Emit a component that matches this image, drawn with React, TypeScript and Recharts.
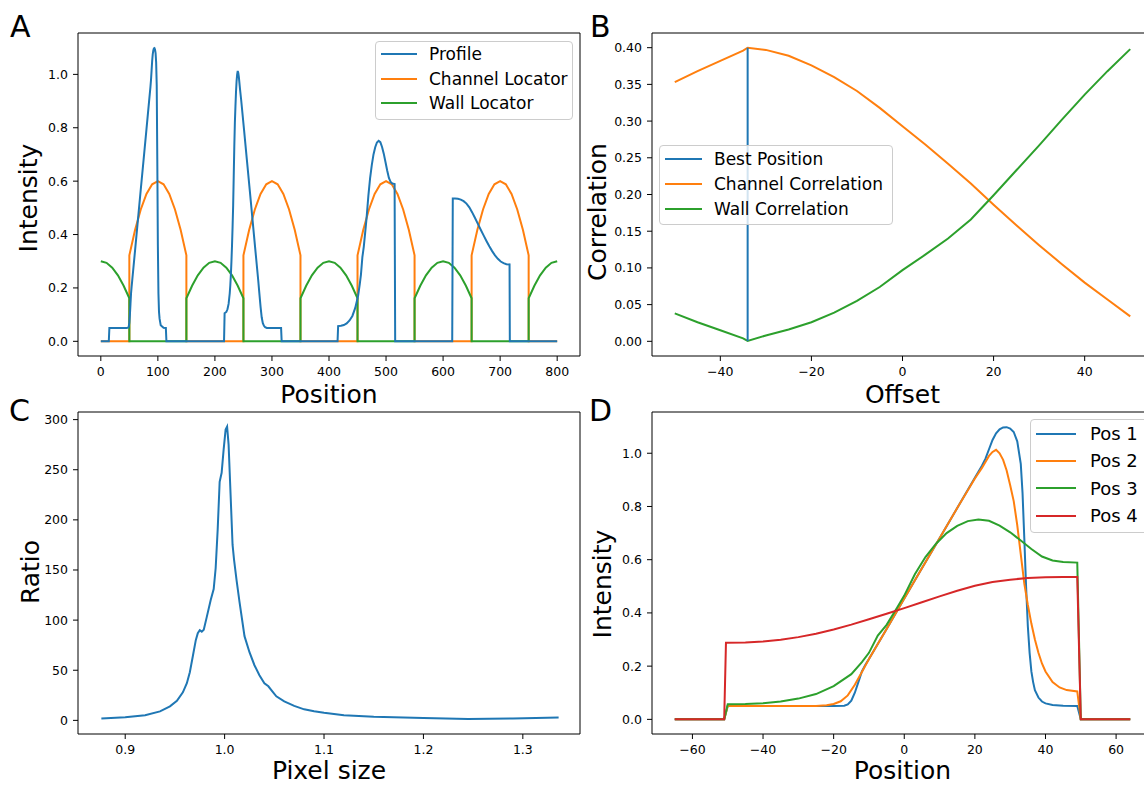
import React from 'react';
import { LineChart, Line, XAxis, YAxis, Legend, ReferenceLine } from 'recharts';

const FONT = '"DejaVu Sans", sans-serif';
const BLUE = '#1f77b4';
const ORANGE = '#ff7f0e';
const GREEN = '#2ca02c';
const RED = '#d62728';

// ---------- A: profile across the whole device ----------
const positionTicks = [0, 100, 200, 300, 400, 500, 600, 700, 800];
const intensityTicks = [0, 0.2, 0.4, 0.6, 0.8, 1.0];

// one locator arc, read every 10 units from -50 to +50 around its centre
const arcOffsets = [-50, -40, -30, -20, -10, 0, 10, 20, 30, 40, 50];
const channelArc = [0.322, 0.417, 0.494, 0.552, 0.588, 0.6, 0.588, 0.552, 0.494, 0.417, 0.322];
const wallArc = [0.161, 0.208, 0.247, 0.276, 0.294, 0.3, 0.294, 0.276, 0.247, 0.208, 0.161];
const channelCentres = [100, 300, 500, 700];
const wallCentres = [0, 200, 400, 600, 800];

const profile = [
  [0, 0], [14, 0], [15, 0.05], [45, 0.05], [48, 0.051], [49, 0.056], [50, 0.07], [51, 0.1], [52, 0.14],
  [53, 0.18], [54, 0.205], [55, 0.227], [60, 0.34], [65, 0.454], [70, 0.568], [75, 0.681], [80, 0.794],
  [85, 0.908], [87, 0.953], [88, 0.98], [89, 1.015], [90, 1.05], [91, 1.075], [92, 1.09], [93, 1.097],
  [94, 1.098], [95, 1.093], [96, 1.08], [97, 1.045], [98, 0.96], [99, 0.68], [100, 0.36], [101, 0.18],
  [102, 0.11], [103, 0.085], [105, 0.06], [110, 0.051], [114, 0.05], [115, 0],
  [216, 0], [217, 0.105], [220, 0.11], [222, 0.12], [224, 0.14], [226, 0.18], [227, 0.21], [228, 0.25],
  [229, 0.3], [230, 0.36], [231, 0.43], [232, 0.51], [233, 0.62], [234, 0.73], [235, 0.82], [236, 0.88],
  [237, 0.935], [238, 0.975], [239, 1.0], [240, 1.013], [241, 1.005], [242, 0.99], [244, 0.945],
  [246, 0.905], [251, 0.794], [256, 0.681], [261, 0.568], [266, 0.454], [271, 0.34], [276, 0.227],
  [278, 0.178], [280, 0.13], [282, 0.09], [284, 0.068], [286, 0.058], [288, 0.053], [291, 0.05],
  [316, 0.05], [317, 0],
  [415, 0], [416, 0.057], [421, 0.058], [426, 0.061], [431, 0.067], [436, 0.078], [441, 0.095],
  [446, 0.125], [451, 0.17], [454, 0.215], [456, 0.25], [458.5, 0.315], [461, 0.355], [464, 0.42],
  [466, 0.465], [469, 0.545], [472, 0.61], [475, 0.66], [478, 0.7], [481, 0.727], [484, 0.745],
  [487, 0.751], [490, 0.746], [493, 0.728], [496, 0.703], [499, 0.672], [502, 0.64], [505, 0.612],
  [508, 0.597], [511, 0.591], [515, 0.589], [516, 0],
  [616, 0], [617, 0.535], [621, 0.535], [626, 0.534], [631, 0.531], [636, 0.525], [641, 0.516],
  [646, 0.502], [651, 0.483], [656, 0.462], [661, 0.44], [666, 0.418], [671, 0.397], [676, 0.376],
  [681, 0.356], [686, 0.338], [691, 0.322], [696, 0.309], [701, 0.299], [706, 0.293], [711, 0.289],
  [716.5, 0.288], [717, 0], [800, 0],
];

// ---------- B: correlation vs offset ----------
const offsets = [-50, -45, -40, -35, -34, -30, -25, -20, -15, -10, -5, 0, 5, 10, 15, 20, 25, 30, 35, 40, 45, 50];
const channelCorr = [0.353, 0.368, 0.382, 0.396, 0.4, 0.397, 0.389, 0.376, 0.36, 0.341, 0.318, 0.293, 0.268, 0.242, 0.215, 0.186, 0.158, 0.131, 0.105, 0.08, 0.057, 0.034];
const wallCorr = [0.038, 0.026, 0.015, 0.004, 0.0005, 0.008, 0.016, 0.026, 0.039, 0.055, 0.074, 0.097, 0.118, 0.14, 0.166, 0.199, 0.233, 0.267, 0.302, 0.336, 0.368, 0.398];
const bestPosition = [[-34, 0.0005], [-34, 0.4]];
const offsetTicks = [-40, -20, 0, 20, 40];
const corrTicks = [0, 0.05, 0.1, 0.15, 0.2, 0.25, 0.3, 0.35, 0.4];

// ---------- C: ratio vs pixel size ----------
const ratio = [
  [0.876, 1.8], [0.9, 3.0], [0.92, 5.2], [0.935, 9], [0.945, 14], [0.952, 19.5], [0.958, 28], [0.962, 37],
  [0.965, 48], [0.968, 64], [0.971, 80], [0.973, 87], [0.975, 90], [0.977, 88.5], [0.979, 90.5],
  [0.982, 103], [0.986, 120], [0.989, 131], [0.991, 152], [0.993, 190], [0.995, 238], [0.997, 247],
  [0.999, 270], [1.001, 290], [1.0025, 293], [1.004, 275], [1.006, 225], [1.008, 175], [1.0095, 160],
  [1.012, 140], [1.015, 118], [1.02, 84], [1.025, 68], [1.03, 55], [1.035, 45], [1.04, 37], [1.044, 34],
  [1.048, 29], [1.052, 24], [1.06, 19], [1.07, 14.5], [1.08, 11], [1.09, 9], [1.1, 7.5], [1.12, 5.2],
  [1.15, 3.6], [1.2, 2.3], [1.245, 1.4], [1.29, 1.9], [1.336, 2.8],
];
const pixelTicks = [0.9, 1.0, 1.1, 1.2, 1.3];
const ratioTicks = [0, 50, 100, 150, 200, 250, 300];

// ---------- D: single channel profiles ----------
const pos1 = [
  [-65, 0], [-51, 0], [-50, 0.05], [-20, 0.05], [-17, 0.051], [-16, 0.056], [-15, 0.07], [-14, 0.1],
  [-13, 0.14], [-12, 0.18], [-11, 0.205], [-10, 0.227], [-5, 0.34], [0, 0.454], [5, 0.568], [10, 0.681],
  [15, 0.794], [20, 0.908], [22, 0.953], [23, 0.98], [24, 1.015], [25, 1.05], [26, 1.075], [27, 1.09],
  [28, 1.097], [29, 1.098], [30, 1.093], [31, 1.08], [32, 1.045], [33, 0.96], [33.5, 0.85], [34, 0.68],
  [34.5, 0.5], [35, 0.35], [35.5, 0.25], [36, 0.18], [36.5, 0.14], [37, 0.11], [38, 0.082], [39, 0.067],
  [40, 0.06], [42, 0.054], [45, 0.051], [49, 0.05], [50, 0], [64, 0],
];
const pos2 = [
  [-65, 0], [-51, 0], [-50, 0.05], [-25, 0.05], [-22, 0.053], [-20, 0.058], [-18, 0.068], [-16, 0.09],
  [-14, 0.13], [-12, 0.178], [-10, 0.227], [-5, 0.34], [0, 0.454], [5, 0.568], [10, 0.681], [15, 0.794],
  [20, 0.905], [22, 0.945], [24, 0.99], [25, 1.005], [26, 1.013], [27, 1.0], [28, 0.975], [29, 0.935],
  [30, 0.88], [31, 0.82], [32, 0.73], [33, 0.62], [34, 0.51], [35, 0.43], [36, 0.36], [37, 0.3],
  [38, 0.25], [39, 0.21], [40, 0.18], [42, 0.14], [44, 0.12], [46, 0.11], [49, 0.105], [50, 0], [64, 0],
];
const pos3 = [
  [-65, 0], [-51, 0], [-50, 0.057], [-45, 0.058], [-40, 0.061], [-35, 0.067], [-30, 0.078], [-25, 0.095],
  [-20, 0.125], [-15, 0.17], [-12, 0.215], [-10, 0.25], [-7.5, 0.315], [-5, 0.355], [-2, 0.42],
  [0, 0.465], [3, 0.545], [6, 0.61], [9, 0.66], [12, 0.7], [15, 0.727], [18, 0.745], [21, 0.751],
  [24, 0.746], [27, 0.728], [30, 0.703], [33, 0.672], [36, 0.64], [39, 0.612], [42, 0.597], [45, 0.591],
  [49, 0.589], [50, 0], [64, 0],
];
const pos4 = [
  [-65, 0], [-51, 0], [-50.5, 0.288], [-45, 0.289], [-40, 0.293], [-35, 0.299], [-30, 0.309], [-25, 0.322],
  [-20, 0.338], [-15, 0.356], [-10, 0.376], [-5, 0.397], [0, 0.418], [5, 0.44], [10, 0.462], [15, 0.483],
  [20, 0.502], [25, 0.516], [30, 0.525], [35, 0.531], [40, 0.534], [45, 0.535], [49, 0.535], [50, 0], [64, 0],
];
const shiftTicks = [-60, -40, -20, 0, 20, 40, 60];

// ---------- helpers ----------
const toPoints = (pairs: number[][]) => pairs.map(([x, y]) => ({ x, y }));

// lay the read arc at every centre, dropping to zero between arcs
const locator = (centres: number[], arc: number[]) => {
  const pts: { x: number; y: number }[] = [];
  centres.forEach((c) => {
    if (c - 50 >= 0) pts.push({ x: c - 50, y: 0 });
    arcOffsets.forEach((o, i) => {
      const x = c + o;
      if (x >= 0 && x <= 800) pts.push({ x, y: arc[i] });
    });
    if (c + 50 <= 800) pts.push({ x: c + 50, y: 0 });
  });
  if (pts[0].x > 0) pts.unshift({ x: 0, y: 0 });
  if (pts[pts.length - 1].x < 800) pts.push({ x: 800, y: 0 });
  return pts;
};

const minus = (v: number) => String(v).replace('-', '\u2212');
const tickStyle = { fill: '#000', fontSize: 12.5, fontFamily: FONT };
const black = { stroke: '#000' };

const AxisTitle = ({ tx, ty, title }: { tx: number; ty: number; title: string }) => (
  <text x={tx} y={ty} transform={`rotate(-90 ${tx} ${ty})`} textAnchor="middle" fontSize={25} fontFamily={FONT} fill="#000">
    {title}
  </text>
);

const xTitle = (value: string, offset: number) => ({ value, position: 'insideBottom' as const, offset, fontSize: 25, fill: '#000', fontFamily: FONT });

type LegendBoxProps = { payload?: any[]; order: string[]; rowHeight: number; fontSize: number; handle: number; gap: number };

const LegendBox = ({ payload = [], order, rowHeight, fontSize, handle, gap }: LegendBoxProps) => {
  const items = order.map((name) => payload.find((p) => p.value === name)).filter(Boolean);
  return (
    <div
      style={{
        boxSizing: 'border-box',
        padding: '0 5px 3px 5px',
        background: 'rgba(255,255,255,0.8)',
        border: '1px solid #cccccc',
        borderRadius: 4,
        fontFamily: FONT,
        fontSize,
        color: '#000',
      }}
    >
      {items.map((p: any) => (
        <div key={p.value} style={{ display: 'flex', alignItems: 'center', height: rowHeight, whiteSpace: 'nowrap' }}>
          <span style={{ display: 'inline-block', flex: 'none', width: handle, height: 2, background: p.color, marginRight: gap }} />
          <span>{p.value}</span>
        </div>
      ))}
    </div>
  );
};

const lineProps = { type: 'linear' as const, dataKey: 'y', strokeWidth: 2, dot: false, activeDot: false, isAnimationActive: false };

// top and right spines of the matplotlib-style box
const spine = { stroke: '#000', strokeWidth: 1, ifOverflow: 'visible' as const };

const PanelA = () => (
  <LineChart width={582} height={411} margin={{ top: 33, right: 2, bottom: 0, left: 0 }}>
    <XAxis dataKey="x" type="number" domain={[-40, 840]} ticks={positionTicks} interval={0} tickFormatter={minus}
      tick={tickStyle} tickSize={5} tickMargin={6} tickLine={black} axisLine={black} height={55} allowDataOverflow
      label={xTitle('Position', 8)} />
    <YAxis type="number" domain={[-0.055, 1.155]} ticks={intensityTicks} interval={0} tickFormatter={(v: number) => v.toFixed(1)}
      tick={tickStyle} tickSize={5} tickMargin={5} tickLine={black} axisLine={black} width={78} allowDataOverflow
      label={<AxisTitle tx={37} ty={198} title="Intensity" />} />
    <ReferenceLine y={1.155} {...spine} />
    <ReferenceLine x={840} {...spine} />
    <Line {...lineProps} data={locator(channelCentres, channelArc)} stroke={ORANGE} name="Channel Locator" />
    <Line {...lineProps} data={locator(wallCentres, wallArc)} stroke={GREEN} name="Wall Locator" />
    <Line {...lineProps} data={toPoints(profile)} stroke={BLUE} name="Profile" />
    <Legend layout="vertical" align="center" verticalAlign="middle" wrapperStyle={{ left: 375, top: 41, width: 198 }}
      content={(props: any) => (
        <LegendBox payload={props.payload} order={['Profile', 'Channel Locator', 'Wall Locator']} rowHeight={24.5} fontSize={17} handle={36} gap={12} />
      )} />
  </LineChart>
);

const PanelB = () => (
  <LineChart width={580} height={411} margin={{ top: 33, right: 2, bottom: 0, left: 0 }}>
    <XAxis dataKey="x" type="number" domain={[-55, 55]} ticks={offsetTicks} interval={0} tickFormatter={minus}
      tick={tickStyle} tickSize={5} tickMargin={6} tickLine={black} axisLine={black} height={55} allowDataOverflow
      label={xTitle('Offset', 8)} />
    <YAxis type="number" domain={[-0.02, 0.42]} ticks={corrTicks} interval={0} tickFormatter={(v: number) => v.toFixed(2)}
      tick={tickStyle} tickSize={5} tickMargin={5} tickLine={black} axisLine={black} width={77} allowDataOverflow
      label={<AxisTitle tx={31} ty={212} title="Correlation" />} />
    <ReferenceLine y={0.42} {...spine} />
    <ReferenceLine x={55} {...spine} />
    <Line {...lineProps} data={offsets.map((x, i) => ({ x, y: channelCorr[i] }))} stroke={ORANGE} name="Channel Correlation" />
    <Line {...lineProps} data={offsets.map((x, i) => ({ x, y: wallCorr[i] }))} stroke={GREEN} name="Wall Correlation" />
    <Line {...lineProps} data={toPoints(bestPosition)} stroke={BLUE} name="Best Position" />
    <Legend layout="vertical" align="center" verticalAlign="middle" wrapperStyle={{ left: 84, top: 145, width: 234 }}
      content={(props: any) => (
        <LegendBox payload={props.payload} order={['Best Position', 'Channel Correlation', 'Wall Correlation']} rowHeight={25} fontSize={17} handle={37} gap={12} />
      )} />
  </LineChart>
);

const PanelC = () => (
  <LineChart width={582} height={406} margin={{ top: 33, right: 2, bottom: 0, left: 0 }}>
    <XAxis dataKey="x" type="number" domain={[0.8525, 1.3575]} ticks={pixelTicks} interval={0} tickFormatter={(v: number) => v.toFixed(1)}
      tick={tickStyle} tickSize={5} tickMargin={6} tickLine={black} axisLine={black} height={51} allowDataOverflow
      label={xTitle('Pixel size', 6)} />
    <YAxis type="number" domain={[-13.6, 307.6]} ticks={ratioTicks} interval={0}
      tick={tickStyle} tickSize={5} tickMargin={5} tickLine={black} axisLine={black} width={78} allowDataOverflow
      label={<AxisTitle tx={39} ty={193} title="Ratio" />} />
    <ReferenceLine y={307.6} {...spine} />
    <ReferenceLine x={1.3575} {...spine} />
    <Line {...lineProps} data={toPoints(ratio)} stroke={BLUE} name="Ratio" />
  </LineChart>
);

const PanelD = () => (
  <LineChart width={580} height={406} margin={{ top: 33, right: 2, bottom: 0, left: 0 }}>
    <XAxis dataKey="x" type="number" domain={[-71.45, 70.45]} ticks={shiftTicks} interval={0} tickFormatter={minus}
      tick={tickStyle} tickSize={5} tickMargin={6} tickLine={black} axisLine={black} height={51} allowDataOverflow
      label={xTitle('Position', 6)} />
    <YAxis type="number" domain={[-0.055, 1.155]} ticks={intensityTicks} interval={0} tickFormatter={(v: number) => v.toFixed(1)}
      tick={tickStyle} tickSize={5} tickMargin={5} tickLine={black} axisLine={black} width={77} allowDataOverflow
      label={<AxisTitle tx={36} ty={205} title="Intensity" />} />
    <ReferenceLine y={1.155} {...spine} />
    <ReferenceLine x={70.45} {...spine} />
    <Line {...lineProps} data={toPoints(pos1)} stroke={BLUE} name="Pos 1" />
    <Line {...lineProps} data={toPoints(pos2)} stroke={ORANGE} name="Pos 2" />
    <Line {...lineProps} data={toPoints(pos3)} stroke={GREEN} name="Pos 3" />
    <Line {...lineProps} data={toPoints(pos4)} stroke={RED} name="Pos 4" />
    <Legend layout="vertical" align="center" verticalAlign="middle" wrapperStyle={{ left: 455, top: 40, width: 140 }}
      content={(props: any) => (
        <LegendBox payload={props.payload} order={['Pos 1', 'Pos 2', 'Pos 3', 'Pos 4']} rowHeight={27.3} fontSize={18} handle={40} gap={14} />
      )} />
  </LineChart>
);

export default function App() {
  return (
    <div style={{ position: 'fixed', left: 0, top: 0, width: 1144, height: 785, overflow: 'hidden', background: '#fff', fontFamily: FONT }}>
      <div style={{ position: 'absolute', left: 0, top: 0 }}><PanelA /></div>
      <div style={{ position: 'absolute', left: 575, top: 0 }}><PanelB /></div>
      <div style={{ position: 'absolute', left: 0, top: 379 }}><PanelC /></div>
      <div style={{ position: 'absolute', left: 575, top: 379 }}><PanelD /></div>
      <svg width={1144} height={785} style={{ position: 'absolute', left: 0, top: 0, pointerEvents: 'none' }}>
        <g fontFamily={FONT} fontSize={30} fill="#000">
          <text x={10} y={37}>A</text>
          <text x={590} y={37}>B</text>
          <text x={9} y={421}>C</text>
          <text x={589} y={421}>D</text>
        </g>
      </svg>
    </div>
  );
}
